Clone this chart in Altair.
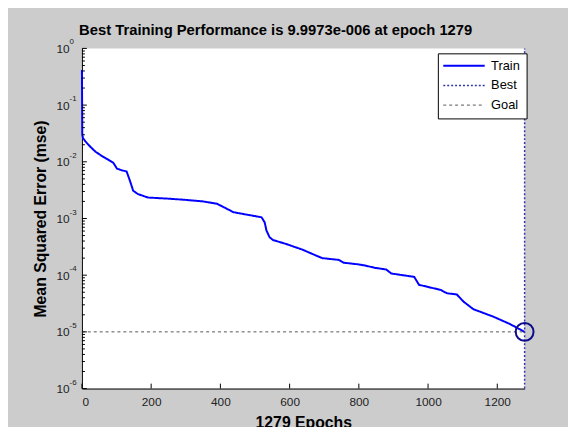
import altair as alt
import pandas as pd

# ---- data ----
epochs = [0, 1, 3, 10, 25, 39, 58, 75, 91, 101, 115, 129, 139, 148, 162, 191, 248, 295,
          350, 390, 419, 438, 476, 519, 528, 533, 542, 552, 590, 637, 675, 694, 742, 756,
          799, 818, 846, 879, 894, 960, 974, 1036, 1055, 1083, 1103, 1131, 1188, 1236, 1279]
train_mse = [0.417, 0.0302, 0.0263, 0.0229, 0.0182, 0.0151, 0.0126, 0.0110, 0.00955,
             0.00759, 0.00708, 0.00676, 0.00457, 0.00309, 0.00269, 0.00234, 0.00224,
             0.00214, 0.00200, 0.00182, 0.00148, 0.00129, 0.00117, 0.00105, 0.000851,
             0.000617, 0.000468, 0.000417, 0.000355, 0.000282, 0.000224, 0.000200,
             0.000186, 0.000166, 0.000155, 0.000148, 0.000135, 0.000126, 0.000107,
             9.33e-5, 6.76e-5, 5.50e-5, 4.79e-5, 4.57e-5, 3.39e-5, 2.51e-5, 1.86e-5,
             1.38e-5, 9.9973e-6]
best_epoch = 1279
best_perf = 9.9973e-6
goal = 1e-5
y_min, y_max = 1e-6, 1.0

series_names = ["Train", "Best", "Goal"]
series_colors = ["#0000ff", "#3434b0", "#555555"]
series_dash = [[1, 0], [2, 2], [3, 3]]
series_width = [2, 1, 1]

x_ticks = [0, 200, 400, 600, 800, 1000, 1200]
y_major = [1e-6, 1e-5, 1e-4, 1e-3, 1e-2, 1e-1, 1.0]
y_exp = ["-6", "-5", "-4", "-3", "-2", "-1", "0"]
y_minor = [k * m for m in y_major[:-1] for k in range(2, 10)]

title_text = "Best Training Performance is 9.9973e-006 at epoch 1279"
x_title = "1279 Epochs"
y_title = "Mean Squared Error  (mse)"

# ---- tables ----
rows = []
for i, (e, v) in enumerate(zip(epochs, train_mse)):
    rows.append({"series": "Train", "epoch": e, "mse": v, "idx": i})
rows.append({"series": "Best", "epoch": best_epoch, "mse": y_min, "idx": 0})
rows.append({"series": "Best", "epoch": best_epoch, "mse": y_max, "idx": 1})
rows.append({"series": "Goal", "epoch": 0, "mse": goal, "idx": 0})
rows.append({"series": "Goal", "epoch": best_epoch, "mse": goal, "idx": 1})
lines_df = pd.DataFrame(rows)

W, H = 449, 345
FONT = "Liberation Sans"

x_scale = alt.Scale(domain=[0, best_epoch], nice=False, zero=False)
y_scale = alt.Scale(type="log", domain=[y_min, y_max], nice=False)
x_axis = alt.Axis(values=x_ticks, format="d", ticks=False, title=x_title, labelPadding=8,
                  titlePadding=7, grid=False)
y_axis = alt.Axis(values=y_major, labelExpr="'10'", ticks=False, title=y_title,
                  labelPadding=13, titlePadding=8, grid=False)


def X(field):
    return alt.X(field, scale=x_scale, axis=x_axis, title=x_title)


def Y(field):
    return alt.Y(field, scale=y_scale, axis=y_axis, title=y_title)


leg = alt.Legend(
    title=None, orient="none", legendX=361, legendY=5,
    fillColor="white", strokeColor="black", padding=6,
    symbolType="M-6,0H6", symbolSize=49, symbolOffset=14, labelOffset=21,
    labelFont=FONT, labelFontSize=13, labelColor="black", rowPadding=6,
)

lines = alt.Chart(lines_df).mark_line(clip=False).encode(
    x=X("epoch:Q"),
    y=Y("mse:Q"),
    color=alt.Color("series:N", scale=alt.Scale(domain=series_names, range=series_colors), legend=leg),
    strokeDash=alt.StrokeDash("series:N", scale=alt.Scale(domain=series_names, range=series_dash), legend=leg),
    strokeWidth=alt.StrokeWidth("series:N", scale=alt.Scale(domain=series_names, range=series_width), legend=leg),
    detail="series:N",
    order="idx:Q",
)

best_df = pd.DataFrame({"epoch": [best_epoch], "mse": [best_perf]})
circle = alt.Chart(best_df).mark_point(shape="circle", filled=False, size=330,
                                       strokeWidth=2, color="#0c0c8c", opacity=1).encode(
    x=X("epoch:Q"), y=Y("mse:Q"),
)

ymaj_df = pd.DataFrame({"v": y_major, "e": y_exp})
ymin_df = pd.DataFrame({"v": y_minor})
xt_df = pd.DataFrame({"v": x_ticks})

ymaj_ticks = alt.Chart(ymaj_df).mark_rule(color="black", strokeWidth=1).encode(
    y=Y("v:Q"), x=alt.value(0), x2=alt.value(5))
ymin_ticks = alt.Chart(ymin_df).mark_rule(color="black", strokeWidth=1).encode(
    y=Y("v:Q"), x=alt.value(0), x2=alt.value(3))
x_tick_marks = alt.Chart(xt_df).mark_rule(color="black", strokeWidth=1).encode(
    x=X("v:Q"), y=alt.value(H), y2=alt.value(H - 5))
exps = alt.Chart(ymaj_df).mark_text(align="left", baseline="middle", fontSize=8, dy=-6,
                                    font=FONT, color="#222222").encode(
    y=Y("v:Q"), x=alt.value(-12.5), text="e:N")

chart = alt.layer(lines, circle, ymaj_ticks, ymin_ticks, x_tick_marks, exps).properties(
    width=W, height=H,
    title=alt.TitleParams(title_text, font=FONT, fontSize=15, fontWeight="bold", color="black",
                          anchor="middle", frame="group", offset=1, dx=-28),
    background="#cccccc",
    padding={"left": 75, "top": 38, "right": 44, "bottom": 36},
    autosize=alt.AutoSizeParams(type="none"),
).configure_view(fill="white", stroke=None).configure_axis(
    domainColor="black", domainWidth=1, labelColor="#222222", labelFont=FONT, labelFontSize=12,
    titleFont=FONT, titleFontSize=16, titleFontWeight="bold", titleColor="black",
)

chart.save("out.html", embed_options={"renderer": "svg", "actions": False})
